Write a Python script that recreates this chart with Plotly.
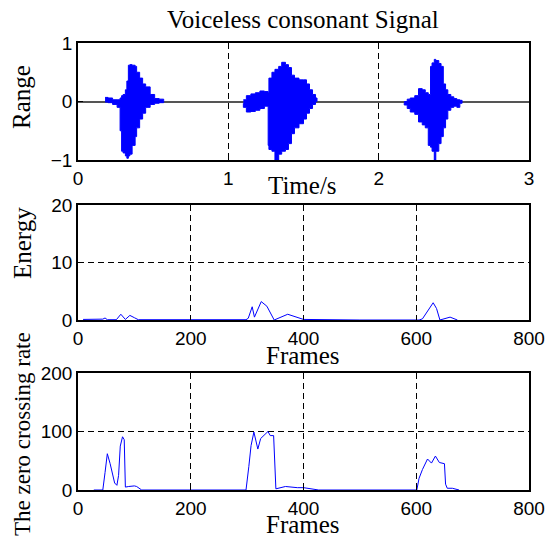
import plotly.graph_objects as go

# ---------------- data ----------------
# Signal envelope per voiced segment: time (s), upper and lower amplitude
seg1_t = [0.18, 0.20, 0.23, 0.26, 0.28, 0.29, 0.30, 0.315, 0.325, 0.335, 0.345, 0.36, 0.38, 0.39, 0.41, 0.43, 0.45, 0.48, 0.51, 0.54, 0.57]
seg1_up = [0.07, 0.06, 0.03, 0.03, 0.06, 0.10, 0.12, 0.20, 0.35, 0.62, 0.63, 0.62, 0.60, 0.50, 0.40, 0.30, 0.25, 0.12, 0.05, 0.04, 0.02]
seg1_lo = [-0.01, -0.01, -0.02, -0.05, -0.10, -0.50, -0.85, -0.88, -0.93, -0.97, -0.93, -0.90, -0.75, -0.60, -0.45, -0.30, -0.20, -0.10, -0.05, -0.03, -0.02]

seg2_t = [1.10, 1.12, 1.15, 1.18, 1.21, 1.24, 1.265, 1.27, 1.29, 1.31, 1.335, 1.355, 1.38, 1.40, 1.42, 1.44, 1.47, 1.50, 1.52, 1.54, 1.56, 1.58, 1.59]
seg2_up = [0.03, 0.10, 0.13, 0.15, 0.18, 0.17, 0.15, 0.40, 0.50, 0.55, 0.60, 0.67, 0.63, 0.58, 0.45, 0.40, 0.37, 0.37, 0.30, 0.20, 0.12, 0.06, 0.0]
seg2_lo = [-0.03, -0.10, -0.18, -0.17, -0.15, -0.12, -0.08, -0.75, -0.82, -0.85, -1.0, -0.90, -0.85, -0.82, -0.72, -0.55, -0.45, -0.38, -0.30, -0.20, -0.12, -0.05, 0.0]

seg3_t = [2.17, 2.19, 2.21, 2.24, 2.265, 2.29, 2.31, 2.33, 2.345, 2.355, 2.37, 2.38, 2.40, 2.415, 2.43, 2.445, 2.46, 2.48, 2.50, 2.52, 2.54, 2.555]
seg3_up = [0.0, 0.04, 0.06, 0.10, 0.22, 0.20, 0.15, 0.12, 0.60, 0.66, 0.72, 0.70, 0.65, 0.60, 0.30, 0.20, 0.12, 0.08, 0.05, 0.03, 0.02, 0.0]
seg3_lo = [-0.02, -0.06, -0.12, -0.18, -0.22, -0.35, -0.40, -0.45, -0.75, -0.78, -0.85, -1.0, -0.85, -0.72, -0.60, -0.45, -0.30, -0.15, -0.10, -0.08, -0.10, -0.03]

# Short-time energy per frame
energy_frames = [9, 30, 44, 48, 52, 68, 76, 84, 92, 100, 107, 200, 298, 302, 309, 313, 325, 335, 342, 348, 372, 385, 400, 500, 605, 611, 630, 636, 642, 660, 673]
energy_vals = [0.1, 0.1, 0.15, 0.35, 0.05, 0.05, 1.0, 0.1, 0.8, 0.4, 0.05, 0.05, 0.05, 0.3, 2.3, 0.5, 3.2, 2.4, 1.0, 0.0, 1.0, 0.6, 0.1, 0.0, 0.0, 0.2, 3.0, 2.0, 0.0, 0.5, 0.0]

# Zero crossing rate per frame
zcr_frames = [28, 44, 48, 52, 57, 65, 69, 72, 75, 79, 82, 84, 90, 100, 104, 113, 200, 298, 303, 307, 312, 319, 324, 332, 337, 341, 347, 351, 368, 389, 400, 427, 500, 601, 605, 611, 620, 627, 634, 641, 650, 652, 655, 664, 676]
zcr_vals = [0, 0, 30, 62, 45, 12, 8, 25, 75, 91, 86, 5, 6, 7, 6, 0, 0, 0, 40, 76, 99, 70, 88, 96, 100, 93, 93, 2, 6, 4, 4, 0, 0, 0, 20, 35, 53, 46, 58, 47, 45, 10, 3, 3, 0]

time_ticks = [0, 1, 2, 3]
frame_ticks = [0, 200, 400, 600, 800]

# ---------------- figure ----------------
W, H = 549, 537
BLUE = "#0000ff"
SERIF = "Liberation Serif, Times New Roman, serif"
SANS = "Liberation Sans, Arial, sans-serif"

fig = go.Figure()

for t, up, lo in [(seg1_t, seg1_up, seg1_lo), (seg2_t, seg2_up, seg2_lo), (seg3_t, seg3_up, seg3_lo)]:
    fig.add_trace(go.Scatter(
        x=t + t[::-1], y=up + lo[::-1], fill="toself", fillcolor=BLUE,
        mode="lines", line=dict(color=BLUE, width=1, shape="hv"),
        xaxis="x", yaxis="y", showlegend=False, hoverinfo="skip"))

fig.add_trace(go.Scatter(x=energy_frames, y=energy_vals, mode="lines",
                         line=dict(color=BLUE, width=1), xaxis="x2", yaxis="y2", showlegend=False))
fig.add_trace(go.Scatter(x=zcr_frames, y=zcr_vals, mode="lines",
                         line=dict(color=BLUE, width=1), xaxis="x3", yaxis="y3", showlegend=False))


def py(px):
    return 1 - px / H


xd = [78 / W, 529 / W]
common = dict(showline=True, linecolor="black", linewidth=1.5, mirror=True,
              ticks="inside", ticklen=5, tickcolor="black", automargin=False,
              tickfont=dict(family=SANS, size=19, color="black"),
              gridcolor="black", griddash="6px,4px", gridwidth=1)

fig.update_layout(
    template="none",
    width=W, height=H, margin=dict(l=0, r=0, t=0, b=0, autoexpand=False),
    paper_bgcolor="white", plot_bgcolor="white",
    xaxis=dict(domain=xd, anchor="y", range=[0, 3], tickvals=time_ticks, showgrid=True, zeroline=False, **common),
    yaxis=dict(domain=[py(160), py(43)], anchor="x", range=[-1, 1], tickvals=[-1, 0, 1], showgrid=False,
               zeroline=True, zerolinecolor="#555555", zerolinewidth=1.5, **common),
    xaxis2=dict(domain=xd, anchor="y2", range=[0, 800], tickvals=frame_ticks, showgrid=True, zeroline=False, **common),
    yaxis2=dict(domain=[py(320), py(205)], anchor="x2", range=[0, 20], tickvals=[0, 10, 20], showgrid=True, zeroline=False, **common),
    xaxis3=dict(domain=xd, anchor="y3", range=[0, 800], tickvals=frame_ticks, showgrid=True, zeroline=False, **common),
    yaxis3=dict(domain=[py(490), py(373)], anchor="x3", range=[0, 200], tickvals=[0, 100, 200], showgrid=True, zeroline=False, **common),
)

anns = [
    ("Voiceless consonant Signal", 303, 19, 0, 25),
    ("Time/s", 303, 186, 0, 25),
    ("Frames", 303, 355, 0, 25),
    ("Frames", 303, 524, 0, 25),
    ("Range", 22, 97, -90, 25),
    ("Energy", 22, 243, -90, 25),
    ("The zero crossing rate", 22, 434, -90, 23),
]
for text, x, y, ang, size in anns:
    fig.add_annotation(text=text, x=x / W, y=py(y), xref="paper", yref="paper",
                       xanchor="center", yanchor="middle", showarrow=False, textangle=ang,
                       font=dict(family=SERIF, size=size, color="black"))

fig.write_html("out.html", config={"displayModeBar": False},
               post_script="document.body.style.margin='0';document.body.style.overflow='hidden';")
